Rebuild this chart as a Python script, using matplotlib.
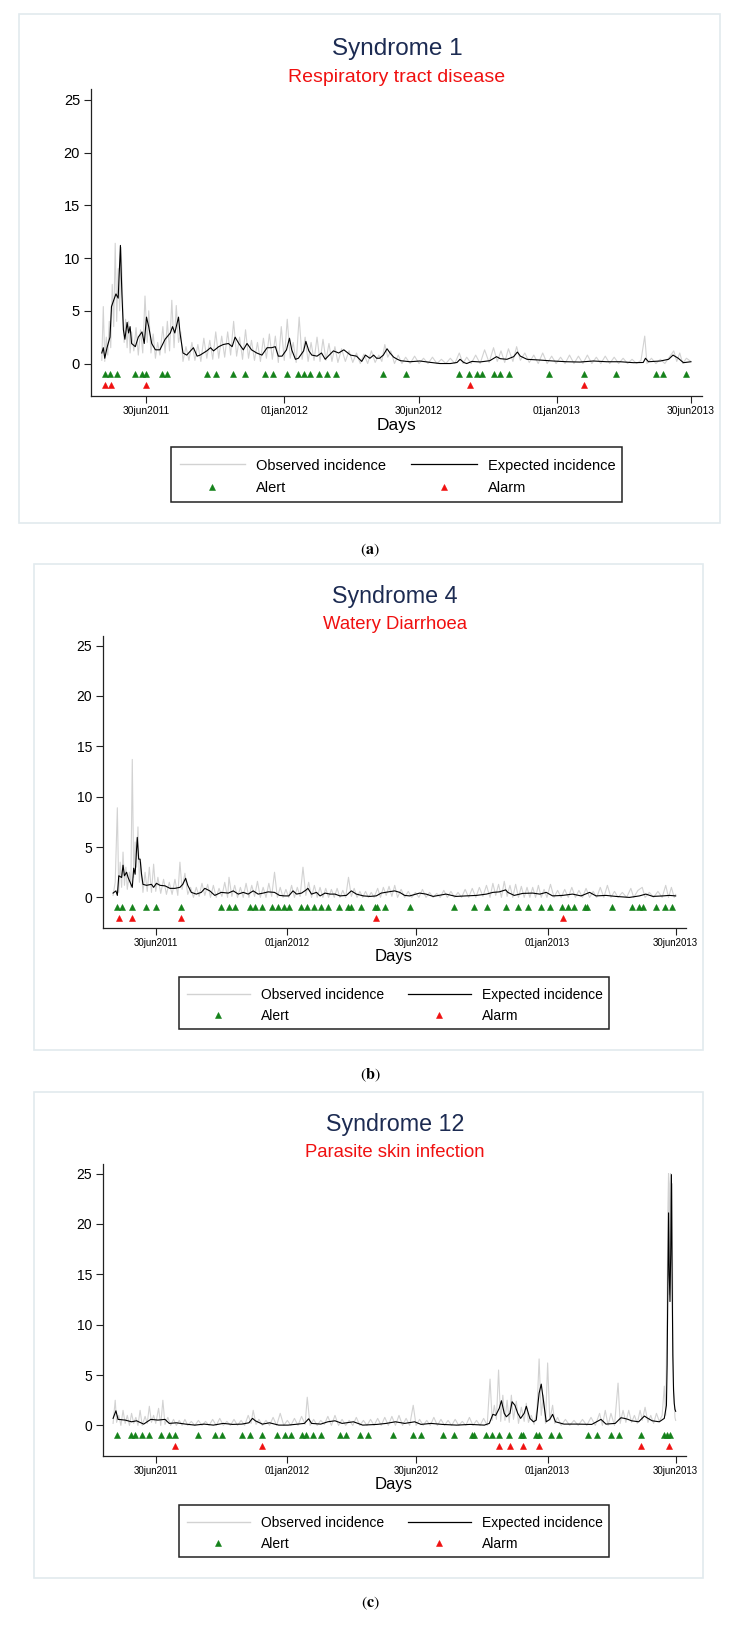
import numpy as np
import matplotlib
matplotlib.use('Agg')
import matplotlib.pyplot as plt
import matplotlib.dates as mdates
from matplotlib.patches import Rectangle

plt.rcParams['font.family'] = ['Liberation Sans', 'DejaVu Sans']
plt.rcParams['mathtext.fontset'] = 'stix'

# day 0 = 30jun2011
START = np.datetime64('2011-06-30')
tick_dates = ['2011-06-30', '2012-01-01', '2012-06-30', '2013-01-01', '2013-06-30']
tick_labels = ['30jun2011', '01jan2012', '30jun2012', '01jan2013', '30jun2013']
y_ticks = [0, 5, 10, 15, 20, 25]

titles = ['Syndrome 1', 'Syndrome 4', 'Syndrome 12']
subtitles = ['Respiratory tract disease', 'Watery Diarrhoea', 'Parasite skin infection']
tags = ['a', 'b', 'c']

# ---- Syndrome 1 ----
a_obs = [(-60, 0.3), (-58, 5.4), (-56, 0.2), (-54, 2.5), (-52, 0.8), (-50, 4.0), (-48, 1.5), (-46, 7.5),
         (-44, 3.5), (-42, 11.4), (-40, 4.0), (-38, 9.0), (-36, 5.0), (-34, 11.0), (-32, 6.0), (-30, 2.0),
         (-28, 4.2), (-26, 1.5), (-24, 4.0), (-22, 1.0), (-20, 3.0), (-17, 1.2), (-14, 3.4), (-11, 0.8),
         (-8, 3.2), (-5, 1.0), (-2, 6.4), (1, 2.0), (3, 5.0), (6, 1.0), (9, 2.8), (12, 0.5), (15, 2.0),
         (18, 0.8), (22, 3.5), (25, 1.0), (28, 4.0), (31, 1.2), (34, 6.0), (37, 1.5), (40, 5.5), (43, 2.0),
         (46, 3.0), (49, 0.2), (53, 1.6), (57, 0.3), (61, 2.0), (65, 0.3), (69, 1.8), (73, 0.2), (77, 2.4),
         (81, 0.5), (85, 2.2), (89, 0.4), (93, 3.0), (97, 0.5), (101, 2.6), (105, 0.6), (109, 3.0),
         (113, 0.8), (117, 4.0), (121, 0.7), (125, 2.5), (129, 0.4), (133, 3.2), (137, 0.5), (141, 2.2),
         (145, 0.3), (149, 2.0), (153, 0.2), (157, 2.4), (161, 0.5), (165, 2.8), (169, 0.4), (173, 2.6),
         (177, 0.1), (181, 3.5), (185, 0.3), (189, 4.2), (193, 0.5), (197, 2.0), (201, 0.1), (205, 4.4),
         (209, 0.4), (213, 2.5), (217, 0.2), (221, 2.0), (225, 0.3), (229, 2.5), (233, 0.2), (237, 2.3),
         (241, 0.3), (245, 1.9), (249, 0.2), (253, 1.6), (257, 0.1), (262, 1.4), (267, 0.2), (272, 1.2),
         (277, 0.1), (282, 1.0), (287, 0.0), (292, 0.9), (297, 0.0), (302, 1.2), (307, 0.1), (312, 0.8),
         (316, 0.2), (320, 1.8), (324, 0.6), (328, 1.2), (333, 0.0), (338, 0.8), (343, 0.0), (348, 0.6),
         (354, 0.0), (360, 0.7), (366, 0.0), (372, 0.5), (378, 0.0), (384, 0.6), (390, 0.0), (396, 0.4),
         (402, 0.0), (408, 0.5), (414, 0.0), (420, 1.0), (425, 0.0), (430, 0.6), (436, 0.0), (442, 0.8),
         (448, 0.0), (454, 1.3), (460, 0.1), (466, 1.5), (471, 0.2), (476, 1.2), (481, 0.1), (486, 1.4),
         (492, 0.2), (497, 1.6), (502, 0.3), (508, 1.0), (514, 0.1), (520, 0.8), (526, 0.0), (532, 1.0),
         (538, 0.0), (544, 0.7), (550, 0.0), (556, 0.6), (562, 0.0), (568, 0.8), (574, 0.0), (580, 0.7),
         (586, 0.0), (592, 0.8), (598, 0.0), (604, 0.6), (610, 0.0), (616, 0.7), (622, 0.0), (628, 0.6),
         (634, 0.0), (640, 0.5), (646, 0.0), (652, 0.4), (658, 0.0), (664, 0.3), (669, 2.6), (672, 0.0),
         (678, 0.5), (684, 0.0), (690, 0.4), (696, 0.0), (702, 0.6), (708, 1.2), (712, 0.2), (716, 1.0),
         (720, 0.0), (725, 0.5), (731, 0.2)]
a_exp = [(-60, 1.0), (-58, 1.5), (-56, 0.5), (-53, 1.5), (-49, 2.5), (-47, 5.4), (-44, 6.0), (-41, 6.6),
         (-38, 6.2), (-35, 11.2), (-34, 8.8), (-33, 6.6), (-31, 3.2), (-29, 2.3), (-26, 3.9), (-24, 2.9),
         (-22, 3.5), (-20, 1.9), (-15, 1.6), (-11, 2.5), (-6, 3.0), (-3, 1.9), (0, 4.4), (3, 3.5), (7, 1.9),
         (12, 1.3), (18, 1.3), (25, 2.3), (32, 2.9), (35, 3.5), (38, 2.9), (43, 4.4), (45, 2.9), (49, 1.0),
         (54, 0.8), (63, 1.5), (68, 0.7), (72, 0.8), (81, 1.2), (86, 1.5), (90, 1.2), (97, 1.6), (103, 1.8),
         (110, 1.9), (115, 1.6), (119, 2.5), (124, 1.9), (130, 1.3), (135, 1.9), (141, 1.3), (148, 1.0),
         (155, 0.8), (162, 1.5), (168, 1.5), (173, 1.6), (177, 0.7), (182, 0.7), (188, 1.3), (192, 2.4),
         (195, 1.3), (200, 0.4), (204, 0.5), (211, 1.2), (214, 2.1), (218, 1.2), (222, 0.8), (229, 0.7),
         (235, 1.0), (240, 0.4), (244, 0.7), (251, 1.2), (258, 1.0), (265, 1.3), (274, 0.8), (282, 0.7),
         (289, 0.2), (294, 0.8), (300, 0.5), (305, 0.8), (309, 0.5), (313, 0.5), (318, 0.8), (323, 1.4),
         (327, 1.0), (332, 0.6), (337, 0.4), (341, 0.27), (354, 0.17), (367, 0.24), (381, 0.11), (394, 0.0),
         (408, 0.0), (417, 0.1), (421, 0.4), (426, 0.1), (430, 0.0), (437, 0.2), (448, 0.15), (461, 0.27),
         (470, 0.65), (475, 0.46), (484, 0.4), (493, 0.65), (498, 1.09), (502, 0.7), (511, 0.4), (528, 0.33),
         (546, 0.24), (564, 0.17), (582, 0.14), (600, 0.24), (618, 0.17), (636, 0.17), (654, 0.08),
         (667, 0.1), (670, 0.5), (674, 0.17), (690, 0.24), (701, 0.4), (707, 0.8), (714, 0.5), (721, 0.08),
         (731, 0.17)]
a_alert = [-56, -49, -39, -15, -6, 0, 21, 27, 81, 94, 116, 132, 159, 170, 189, 204, 211, 220, 232, 242,
           255, 317, 348, 419, 433, 444, 451, 467, 475, 487, 541, 587, 631, 684, 693, 724]
a_alarm = [-56, -48, 0, 434, 587]

# ---- Syndrome 4 ----
b_obs = [(-60, 0.2), (-57, 1.5), (-54, 8.9), (-52, 0.5), (-50, 3.5), (-48, 1.0), (-46, 4.5), (-44, 1.2),
         (-42, 3.0), (-40, 0.8), (-37, 2.5), (-35, 1.0), (-33, 13.7), (-31, 2.0), (-29, 5.5), (-27, 3.0),
         (-25, 7.0), (-23, 1.5), (-21, 3.5), (-18, 0.5), (-15, 2.5), (-12, 0.6), (-9, 3.0), (-6, 0.5),
         (-3, 3.3), (0, 0.6), (3, 2.0), (7, 0.4), (11, 1.8), (15, 0.3), (19, 1.5), (23, 0.3), (27, 1.8),
         (31, 0.2), (34, 3.5), (37, 0.8), (41, 2.4), (45, 0.3), (49, 1.0), (53, 0.0), (57, 1.0), (61, 0.1),
         (65, 1.4), (69, 0.2), (73, 1.3), (77, 0.0), (81, 1.2), (85, 0.0), (89, 0.9), (93, 0.1), (97, 1.5),
         (101, 0.0), (103, 2.0), (107, 0.1), (111, 1.2), (115, 0.0), (119, 1.0), (123, 0.0), (127, 1.4),
         (131, 0.0), (135, 1.2), (139, 0.1), (143, 1.6), (147, 0.0), (151, 1.0), (155, 0.0), (159, 1.4),
         (163, 0.1), (167, 2.5), (171, 0.0), (175, 1.0), (179, 0.0), (183, 0.8), (187, 0.0), (191, 1.2),
         (195, 0.0), (199, 1.0), (203, 0.1), (207, 3.0), (211, 0.2), (215, 1.5), (219, 0.0), (223, 1.2),
         (227, 0.0), (231, 1.0), (235, 0.0), (239, 0.9), (243, 0.0), (247, 0.8), (251, 0.0), (255, 0.9),
         (259, 0.0), (263, 0.7), (267, 0.0), (271, 2.0), (275, 0.1), (279, 0.9), (283, 0.0), (287, 0.6),
         (291, 0.0), (295, 0.6), (299, 0.0), (303, 0.5), (307, 0.0), (312, 0.9), (316, 0.0), (320, 1.0),
         (324, 0.2), (328, 1.1), (332, 0.1), (336, 1.2), (340, 0.0), (345, 0.8), (350, 0.0), (355, 0.6),
         (360, 0.0), (365, 0.5), (370, 0.0), (375, 0.8), (380, 0.0), (385, 0.5), (390, 0.0), (395, 0.4),
         (400, 0.0), (405, 0.7), (410, 0.0), (415, 0.6), (420, 0.0), (425, 0.5), (430, 0.0), (435, 0.8),
         (440, 0.0), (445, 0.9), (450, 0.0), (455, 1.0), (460, 0.1), (465, 1.2), (470, 0.0), (474, 1.4),
         (478, 0.2), (482, 1.3), (486, 0.0), (490, 1.6), (494, 0.1), (498, 1.2), (502, 0.0), (506, 1.3),
         (510, 0.0), (514, 1.1), (518, 0.0), (522, 1.0), (526, 0.0), (530, 1.0), (534, 0.0), (538, 1.2),
         (542, 0.0), (546, 0.8), (550, 0.0), (555, 1.3), (560, 0.0), (565, 0.7), (570, 0.0), (575, 0.8),
         (580, 0.0), (585, 1.0), (590, 0.0), (595, 0.7), (600, 0.0), (605, 0.9), (610, 0.0), (615, 0.6),
         (620, 0.0), (625, 1.0), (630, 0.0), (635, 1.2), (640, 0.0), (645, 0.6), (650, 0.0), (656, 0.5),
         (662, 0.0), (668, 0.9), (672, 0.0), (678, 0.7), (684, 1.0), (688, 0.0), (694, 0.5), (700, 0.0),
         (706, 0.6), (712, 0.0), (717, 1.2), (721, 0.0), (725, 1.0), (729, 0.0), (731, 0.3)]
b_exp = [(-60, 0.43), (-56, 0.65), (-54, 0.2), (-52, 2.15), (-48, 1.98), (-46, 3.2), (-44, 2.15), (-41, 2.5),
         (-39, 2.0), (-36, 1.5), (-33, 1.0), (-31, 2.9), (-29, 2.3), (-26, 5.96), (-24, 3.8), (-22, 3.8),
         (-20, 2.3), (-18, 1.3), (-13, 1.2), (-6, 1.3), (-3, 1.0), (1, 1.4), (6, 1.2), (13, 1.15), (20, 0.9),
         (27, 0.9), (34, 1.0), (38, 1.3), (42, 1.9), (45, 1.2), (50, 0.5), (57, 0.33), (64, 0.5), (69, 0.9),
         (76, 0.65), (83, 0.2), (92, 0.5), (102, 0.43), (109, 0.65), (116, 0.33), (123, 0.5), (130, 0.33),
         (137, 0.65), (144, 0.33), (151, 0.43), (158, 0.55), (167, 0.5), (174, 0.2), (181, 0.15), (187, 0.15),
         (193, 0.65), (198, 0.33), (205, 0.43), (211, 0.72), (214, 0.9), (219, 0.33), (226, 0.5), (231, 0.15),
         (238, 0.43), (245, 0.33), (252, 0.33), (259, 0.15), (268, 0.2), (275, 0.65), (282, 0.33), (292, 0.15),
         (301, 0.1), (310, 0.15), (317, 0.43), (327, 0.55), (336, 0.65), (343, 0.5), (350, 0.2), (357, 0.15),
         (371, 0.43), (380, 0.33), (390, 0.1), (408, 0.33), (422, 0.1), (436, 0.15), (451, 0.2), (465, 0.33),
         (474, 0.5), (483, 0.55), (492, 0.75), (495, 0.5), (504, 0.2), (516, 0.4), (530, 0.43), (540, 0.33),
         (549, 0.5), (558, 0.15), (572, 0.2), (586, 0.33), (598, 0.15), (610, 0.5), (619, 0.15), (633, 0.2),
         (647, 0.1), (666, 0.0), (680, 0.15), (689, 0.33), (699, 0.1), (713, 0.15), (722, 0.2), (731, 0.15)]
b_alert = [-54, -47, -33, -14, 0, 35, 92, 103, 112, 132, 140, 149, 164, 172, 180, 187, 204, 212, 222, 232,
           242, 257, 270, 275, 289, 308, 311, 323, 357, 419, 447, 466, 492, 509, 523, 541, 555, 571, 579,
           588, 603, 607, 642, 669, 679, 685, 704, 716, 726]
b_alarm = [-52, -33, 35, 309, 572]

# ---- Syndrome 12 ----
c_obs = [(-60, 0.2), (-57, 2.5), (-55, 0.3), (-52, 1.0), (-49, 0.0), (-46, 1.5), (-43, 0.2), (-40, 1.0),
         (-37, 0.0), (-34, 1.2), (-31, 0.2), (-28, 0.8), (-25, 0.0), (-22, 1.5), (-19, 0.0), (-15, 0.9),
         (-12, 0.2), (-9, 1.9), (-6, 0.3), (-3, 1.0), (0, 0.2), (4, 1.7), (7, 0.0), (10, 2.5), (13, 0.1),
         (17, 0.8), (21, 0.0), (25, 0.6), (29, 0.0), (33, 0.5), (37, 0.0), (41, 0.6), (45, 0.0), (50, 0.4),
         (55, 0.0), (60, 0.5), (65, 0.0), (70, 0.4), (75, 0.0), (80, 0.6), (85, 0.0), (90, 0.7), (95, 0.0),
         (100, 0.4), (105, 0.0), (110, 0.6), (115, 0.0), (120, 0.5), (125, 0.0), (130, 1.0), (134, 0.2),
         (137, 1.5), (141, 0.1), (145, 0.6), (150, 0.0), (155, 0.5), (160, 0.0), (165, 0.8), (170, 0.0),
         (175, 1.2), (180, 0.0), (185, 0.5), (190, 0.0), (195, 0.7), (200, 0.0), (205, 0.9), (210, 0.1),
         (213, 2.8), (217, 0.0), (222, 0.6), (227, 0.0), (232, 0.5), (237, 0.1), (242, 0.9), (247, 0.0),
         (252, 1.0), (257, 0.0), (262, 0.6), (267, 0.0), (272, 0.5), (277, 0.0), (282, 0.8), (287, 0.0),
         (292, 0.5), (297, 0.0), (302, 0.6), (307, 0.0), (312, 0.7), (317, 0.0), (322, 0.8), (327, 0.0),
         (332, 0.9), (337, 0.0), (342, 1.0), (347, 0.0), (352, 0.7), (357, 0.0), (362, 2.0), (366, 0.0),
         (371, 0.6), (376, 0.0), (381, 0.5), (386, 0.0), (391, 0.8), (396, 0.0), (401, 0.6), (406, 0.0),
         (411, 0.5), (416, 0.0), (421, 0.6), (426, 0.0), (431, 0.4), (436, 0.0), (441, 0.8), (446, 0.0),
         (451, 0.5), (456, 0.0), (461, 0.7), (466, 0.0), (470, 4.6), (473, 0.5), (476, 2.0), (479, 0.6),
         (482, 5.5), (485, 0.4), (488, 3.0), (491, 0.5), (494, 2.5), (497, 0.3), (500, 3.0), (503, 0.6),
         (507, 2.4), (510, 0.2), (514, 1.8), (518, 0.4), (521, 2.2), (524, 0.3), (528, 1.0), (532, 0.1),
         (536, 1.5), (539, 6.6), (542, 1.0), (545, 3.0), (548, 0.2), (551, 6.2), (554, 0.5), (558, 2.0),
         (561, 0.2), (565, 0.8), (570, 0.0), (576, 0.6), (582, 0.0), (588, 0.5), (594, 0.0), (600, 0.6),
         (606, 0.0), (612, 0.8), (618, 0.0), (624, 1.2), (628, 0.0), (632, 1.5), (636, 0.0), (640, 1.2),
         (645, 0.0), (650, 4.2), (653, 0.2), (657, 1.5), (661, 0.3), (665, 1.5), (669, 0.3), (673, 1.0),
         (677, 0.2), (681, 1.5), (684, 0.5), (688, 1.8), (692, 0.3), (696, 1.0), (700, 0.2), (704, 1.2),
         (708, 0.4), (712, 1.0), (715, 3.9), (717, 1.0), (719, 12.0), (720, 21.0), (721, 25.0), (722, 13.0),
         (723, 24.0), (724, 25.0), (725, 18.0), (726, 24.0), (727, 10.0), (728, 4.0), (730, 0.8), (731, 0.5)]
c_exp = [(-60, 0.7), (-56, 1.45), (-53, 0.6), (-43, 0.53), (-34, 0.36), (-27, 0.46), (-17, 0.13), (-7, 0.6),
         (3, 0.53), (13, 0.6), (19, 0.2), (29, 0.26), (42, 0.13), (55, 0.03), (68, 0.13), (81, 0.03),
         (95, 0.2), (108, 0.1), (121, 0.13), (131, 0.26), (136, 0.7), (140, 0.46), (150, 0.13), (160, 0.26),
         (173, 0.03), (186, 0.03), (200, 0.13), (209, 0.2), (215, 0.66), (219, 0.2), (232, 0.13), (242, 0.36),
         (252, 0.46), (262, 0.2), (278, 0.36), (291, 0.03), (311, 0.1), (324, 0.2), (337, 0.36), (350, 0.2),
         (364, 0.36), (373, 0.1), (387, 0.2), (403, 0.1), (423, 0.03), (442, 0.1), (462, 0.03), (469, 0.2),
         (474, 1.1), (478, 1.0), (483, 1.7), (486, 2.45), (490, 1.2), (493, 0.86), (498, 1.2), (501, 2.35),
         (505, 2.0), (509, 1.2), (513, 0.7), (518, 1.2), (521, 1.9), (526, 0.7), (531, 0.36), (535, 0.53),
         (539, 3.2), (542, 4.1), (545, 2.5), (549, 0.36), (554, 0.6), (558, 1.1), (562, 0.36), (574, 0.13),
         (593, 0.13), (613, 0.1), (626, 0.6), (633, 0.13), (646, 0.2), (654, 0.76), (659, 0.7), (664, 0.6),
         (669, 0.46), (679, 0.36), (687, 0.93), (692, 0.7), (698, 0.46), (708, 0.36), (715, 0.7), (718, 2.0),
         (719, 6.0), (720, 14.0), (721, 21.1), (722, 15.0), (723, 12.3), (724, 17.0), (725, 24.9),
         (726, 15.0), (727, 7.0), (728, 3.5), (729, 2.2), (730, 1.6), (731, 1.4)]
c_alert = [-55, -35, -29, -20, -9, 7, 18, 27, 60, 83, 93, 121, 132, 150, 171, 182, 190, 206, 211, 221, 232,
           259, 267, 287, 298, 333, 362, 373, 404, 419, 444, 448, 464, 473, 483, 497, 513, 516, 535, 539,
           556, 567, 608, 621, 640, 652, 682, 715, 719, 723]
c_alarm = [27, 150, 483, 498, 516, 539, 682, 722]

panels = [(a_obs, a_exp, a_alert, a_alarm),
          (b_obs, b_exp, b_alert, b_alarm),
          (c_obs, c_exp, c_alert, c_alarm)]

# panel placement in pixels: frame left, frame top, scale
placement = [(19, 14.4, 1.0), (34, 564, 0.955), (34, 1092, 0.955)]

W, H = 730, 1629
FW, FH = 701, 508.6
AL, AR, AT, AB = 72, 682.7, 74.9, 381.3

NAVY = '#1c2b52'
RED = '#f01010'
GREEN = '#14821a'
OBS_C = '#d2d2d2'
FRAME_C = '#e2eaee'


def to_dates(days):
    return START + np.asarray(days).astype('timedelta64[D]')


fig = plt.figure(figsize=(W / 100, H / 100), dpi=100, facecolor='white')

for i, (obs, exp, alert, alarm) in enumerate(panels):
    ox, oy, s = placement[i]

    # frame, titles and legend
    ov = fig.add_axes([ox / W, 1 - (oy + FH * s) / H, FW * s / W, FH * s / H])
    ov.set_xlim(0, FW)
    ov.set_ylim(FH, 0)
    ov.axis('off')
    ov.add_patch(Rectangle((0, 0), FW, FH, fill=False, ec=FRAME_C, lw=1.2, clip_on=False))
    ov.text(378, 41, titles[i], ha='center', va='baseline', fontsize=17.5 * s, color=NAVY)
    ov.text(378, 68, subtitles[i], ha='center', va='baseline', fontsize=14 * s, color=RED)
    ov.text(377, 416, 'Days', ha='center', va='baseline', fontsize=12.5 * s, color='black')

    ov.add_patch(Rectangle((152.3, 432.3), 450.2, 55, fill=False, ec='#222222', lw=1.1))
    r1, r2 = 449.9, 472.3
    ov.plot([160.6, 226.1], [r1, r1], color=OBS_C, lw=1.0)
    ov.plot([391.7, 458.1], [r1, r1], color='black', lw=0.9)
    ov.plot([193], [r2], marker='^', color=GREEN, ms=5.0 * s, mew=0.4, ls='none')
    ov.plot([424.5], [r2], marker='^', color=RED, ms=5.0 * s, mew=0.4, ls='none')
    leg_fs = 10.5 * s
    ov.text(237.3, r1 + 5.3, 'Observed incidence', va='baseline', fontsize=leg_fs)
    ov.text(468.9, r1 + 5.3, 'Expected incidence', va='baseline', fontsize=leg_fs)
    ov.text(237.3, r2 + 5.3, 'Alert', va='baseline', fontsize=leg_fs)
    ov.text(468.9, r2 + 5.3, 'Alarm', va='baseline', fontsize=leg_fs)

    fig.text(370 / W, 1 - (oy + 535.6 * s) / H, r'$(\mathbf{' + tags[i] + '})$',
             ha='center', va='center', fontsize=11.5)

    # the plot itself
    ax = fig.add_axes([(ox + AL * s) / W, 1 - (oy + AB * s) / H,
                       (AR - AL) * s / W, (AB - AT) * s / H])
    od, ovals = np.array(obs).T
    ed, evals = np.array(exp).T
    ax.plot(to_dates(od), ovals, color=OBS_C, lw=0.8, zorder=1)
    ax.plot(to_dates(ed), evals, color='black', lw=0.8, zorder=2)
    ax.plot(to_dates(alert), np.full(len(alert), -1.0), ls='none', marker='^',
            color=GREEN, ms=4.8 * s, mew=0.4, zorder=3)
    ax.plot(to_dates(alarm), np.full(len(alarm), -2.0), ls='none', marker='^',
            color=RED, ms=4.8 * s, mew=0.4, zorder=3)

    x0 = mdates.date2num(START)
    ax.set_xlim(x0 - 74.5, x0 + 745.5)
    ax.set_ylim(-3.05, 26.0)
    ax.set_xticks(mdates.date2num(np.array(tick_dates, dtype='datetime64[D]')))
    ax.set_xticklabels(tick_labels)
    ax.set_yticks(y_ticks)
    ax.set_yticklabels([str(v) for v in y_ticks])
    ax.tick_params(axis='x', length=5 * s, width=0.8, pad=2.7 * s, labelsize=7.4 * s, color='#222222')
    ax.tick_params(axis='y', length=5 * s, width=0.8, pad=2.9 * s, labelsize=10.5 * s, color='#222222')
    for side in ['top', 'right']:
        ax.spines[side].set_visible(False)
    for side in ['left', 'bottom']:
        ax.spines[side].set_color('#222222')
        ax.spines[side].set_linewidth(0.9)
    ax.set_facecolor('none')

fig.savefig('out.png', dpi=100, facecolor='white')
